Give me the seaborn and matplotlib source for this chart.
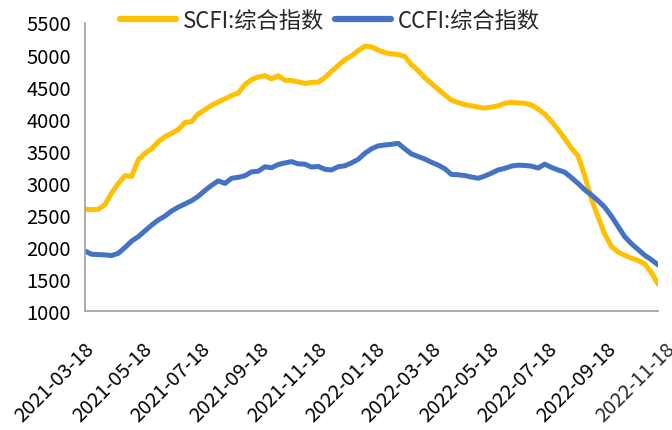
import pandas as pd
import seaborn as sns
import matplotlib.pyplot as plt
from matplotlib.transforms import ScaledTranslation

# weekly index values, 2021-03-18 .. 2022-11-10
dates = pd.date_range('2021-03-18', periods=87, freq='7D')

scfi = [2590, 2580, 2585, 2660, 2840, 2990, 3110, 3100, 3360, 3460,
        3530, 3640, 3720, 3770, 3830, 3940, 3955, 4075, 4140, 4210,
        4260, 4310, 4360, 4400, 4530, 4610, 4650, 4670, 4620, 4670,
        4600, 4595, 4575, 4550, 4565, 4570, 4640, 4740, 4830, 4920,
        4980, 5060, 5130, 5120, 5070, 5030, 5010, 5000, 4970, 4840,
        4750, 4640, 4550, 4460, 4370, 4290, 4250, 4220, 4200, 4180,
        4165, 4180, 4200, 4240, 4255, 4245, 4240, 4215, 4150, 4070,
        3960, 3830, 3690, 3540, 3420, 3110, 2750, 2470, 2200, 2010,
        1920, 1870, 1825, 1790, 1735, 1600, 1420]

ccfi = [1935, 1885, 1880, 1875, 1865, 1900, 1990, 2090, 2160, 2250,
        2340, 2420, 2480, 2560, 2620, 2670, 2720, 2790, 2880, 2960,
        3030, 2990, 3070, 3085, 3110, 3170, 3180, 3250, 3235, 3285,
        3310, 3330, 3295, 3290, 3245, 3255, 3210, 3200, 3250, 3265,
        3310, 3365, 3460, 3530, 3575, 3590, 3600, 3615, 3530, 3450,
        3410, 3370, 3320, 3275, 3220, 3130, 3125, 3112, 3090, 3070,
        3105, 3150, 3200, 3225, 3260, 3275, 3270, 3260, 3230, 3290,
        3240, 3200, 3165, 3080, 2990, 2890, 2810, 2720, 2620, 2480,
        2320, 2160, 2050, 1960, 1870, 1800, 1720]

names = ['SCFI:综合指数', 'CCFI:综合指数']
colors = ['#FFC000', '#4472C4']

tick_dates = pd.date_range('2021-03-18', '2022-09-18', freq=pd.DateOffset(months=2))
last_label = '2022-11-18'

df = pd.DataFrame({'date': dates, names[0]: scfi, names[1]: ccfi})
df = df.melt('date', var_name='series', value_name='value')

sns.set_style('white')
plt.rcParams['font.family'] = ['Noto Sans CJK SC', 'DejaVu Sans']

fig = plt.figure(figsize=(6.72, 4.31), dpi=100)
ax = fig.add_axes([85/672, 1-312/431, (658-85)/672, (312-23.5)/431])

sns.lineplot(data=df, x='date', y='value', hue='series', hue_order=names,
             palette=colors, linewidth=3.6, ax=ax)

ax.set_xlim(dates[0], dates[-1])
ax.set_ylim(1000, 5500)
ax.set_yticks(range(1000, 5501, 500))
ax.set_xticks(tick_dates)
ax.set_xticklabels([d.strftime('%Y-%m-%d') for d in tick_dates])
ax.set_xlabel('')
ax.set_ylabel('')

grey = '#A6A6A6'
for s in ['top', 'right']:
    ax.spines[s].set_visible(False)
for s in ['left', 'bottom']:
    ax.spines[s].set_color(grey)
    ax.spines[s].set_linewidth(1.3)

ax.tick_params(axis='both', direction='out', length=6.5, width=1.3,
               color=grey, labelsize=14.5, labelcolor='black')
ax.tick_params(axis='x', pad=18)

plt.setp(ax.get_xticklabels(), rotation=45, ha='right', va='center',
         rotation_mode='anchor')
offset = ScaledTranslation(0.06, 0, fig.dpi_scale_trans)
for lbl in ax.get_xticklabels():
    lbl.set_transform(lbl.get_transform() + offset)

# last label sits past the end of the axis and gets cut by the figure edge
tr = ax.get_xaxis_transform() + ScaledTranslation(0.06, -0.34, fig.dpi_scale_trans)
ax.text(pd.Timestamp(last_label), 0, last_label, transform=tr, rotation=45,
        ha='right', va='center', rotation_mode='anchor', fontsize=14.5,
        clip_on=False)

handles, labels = ax.get_legend_handles_labels()
ax.legend_.remove()
for h in handles:
    h.set_linewidth(4.5)
    h.set_solid_capstyle('round')
fig.legend(handles, labels, loc='center', bbox_to_anchor=(0.491, 0.951),
           ncol=2, frameon=False, fontsize=16, handlelength=2.5,
           handletextpad=0.3, columnspacing=0.5)

fig.savefig('out.png', dpi=100)
